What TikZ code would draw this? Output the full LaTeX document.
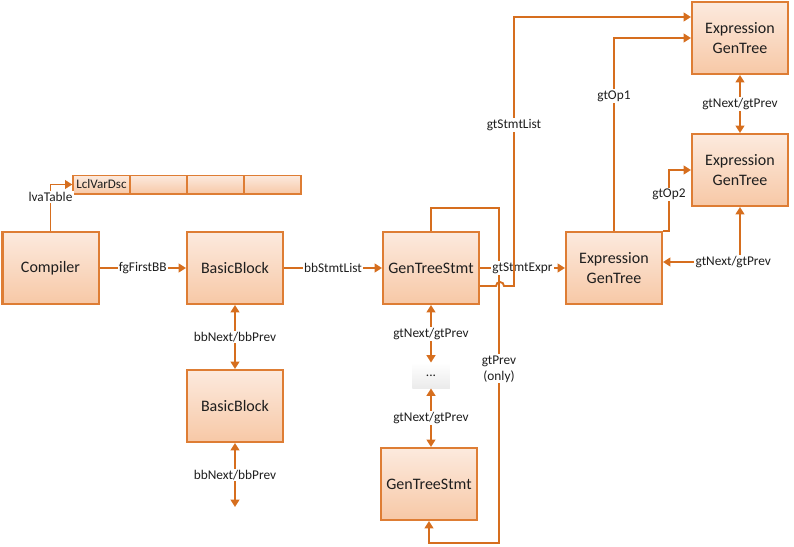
\documentclass[tikz,border=0pt]{standalone}
\usepackage{fontspec}
\setmainfont{Carlito}
\usepackage{tikz}
\usetikzlibrary{arrows.meta,calc,shadows}

\definecolor{boxline}{RGB}{222,125,52}
\definecolor{boxtop}{RGB}{252,234,222}
\definecolor{boxbot}{RGB}{247,200,166}
\definecolor{link}{RGB}{214,110,30}
\definecolor{txt}{RGB}{30,30,30}

\tikzset{
  objbox/.style={draw=boxline, line width=1.5pt, top color=boxtop, bottom color=boxbot,
    minimum width=72pt, minimum height=54pt, align=center, text=txt,
    font=\fontsize{12}{14.5}\selectfont,
    drop shadow={opacity=0.18, shadow xshift=0.8pt, shadow yshift=-0.8pt}},
  cellbox/.style={draw=boxline, line width=1pt, top color=boxtop, bottom color=boxbot,
    minimum width=42.75pt, minimum height=14pt, inner sep=0pt, text=txt,
    font=\fontsize{9.8}{11}\selectfont},
  dotbox/.style={top color=white, bottom color=black!8, minimum width=28pt,
    minimum height=19pt, text=txt, font=\fontsize{10}{11}\selectfont,
    drop shadow={opacity=0.12, shadow xshift=0.6pt, shadow yshift=-0.6pt}},
  lnk/.style={draw=link, line width=1.4pt},
  tip/.style={lnk, -{Triangle[width=6.5pt,length=5.5pt]}},
  both/.style={lnk, {Triangle[width=6.5pt,length=5.5pt]}-{Triangle[width=6.5pt,length=5.5pt]}},
  lbl/.style={fill=white, inner sep=1pt, text=txt, align=center,
    font=\fontsize{10}{12}\selectfont}
}

\begin{document}
\begin{tikzpicture}[x=0.75pt,y=-0.75pt]
\useasboundingbox (0,0) rectangle (794,547);

\node[objbox] (comp) at (50.5,268) {Compiler};
\node[objbox] (bb1) at (235,268) {BasicBlock};
\node[objbox] (bb2) at (235,406) {BasicBlock};
\node[objbox] (gts1) at (431,268) {GenTreeStmt};
\node[dotbox] (dots) at (431,375.5) {...};
\node[objbox] (gts2) at (429,484) {GenTreeStmt};
\node[objbox] (ex0) at (614,268) {Expression\\GenTree};
\node[objbox] (ex1) at (740,38) {Expression\\GenTree};
\node[objbox] (ex2) at (740,170) {Expression\\GenTree};

\node[cellbox] (lvd1) at (101.5,184.5) {LclVarDsc};
\foreach \i/\x in {2/158.5,3/215.5,4/272.5}
  \node[cellbox] (lvd\i) at (\x,184.5) {};

\coordinate (bbend) at (235,507);
\coordinate (pv1) at (499,208);
\coordinate (pv2) at (499,543);
\coordinate (sl1) at (496,286);
\coordinate (sl2) at (514,286);

\draw[tip] (comp.north) |- node[lbl,pos=0.37] {lvaTable} (lvd1.west);
\draw[tip] (comp) -- node[lbl] {fgFirstBB} (bb1);
\draw[tip] (bb1) -- node[lbl] {bbStmtList} (gts1);
\draw[both] (bb1) -- node[lbl] {bbNext/bbPrev} (bb2);
\draw[both] (bb2.south) -- node[lbl] {bbNext/bbPrev} (bbend);

\draw[both] (gts1) -- node[lbl] {gtNext/gtPrev} (dots);
\draw[both] (dots) -- node[lbl] {gtNext/gtPrev} (dots |- gts2.north);
\draw[tip] (gts1.north) |- (pv1) -- node[lbl,pos=0.48] {gtPrev\\(only)} (pv2) -| (gts2.south);

\draw[tip] (gts1) -- node[lbl] {gtStmtExpr} (ex0);
\draw[tip] ($(gts1.east)+(0,18)$) -- (sl1) arc[start angle=180,end angle=0,radius=3pt]
  -- (sl2) |- node[lbl,pos=0.3] {gtStmtList} ($(ex1.west)+(0,-21)$);

\draw[tip] (ex0.north) |- node[lbl,pos=0.35] {gtOp1} (ex1.west);
\draw[tip] (ex0.north east) -- ++(6,0) |- node[lbl,pos=0.3] {gtOp2} (ex2.west);
\draw[both] (ex1) -- node[lbl] {gtNext/gtPrev} (ex2);
\draw[both] ($(ex0.east)+(0,-6)$) -| node[lbl,pos=0.5,xshift=-5pt] {gtNext/gtPrev} (ex2.south);
\end{tikzpicture}
\end{document}
